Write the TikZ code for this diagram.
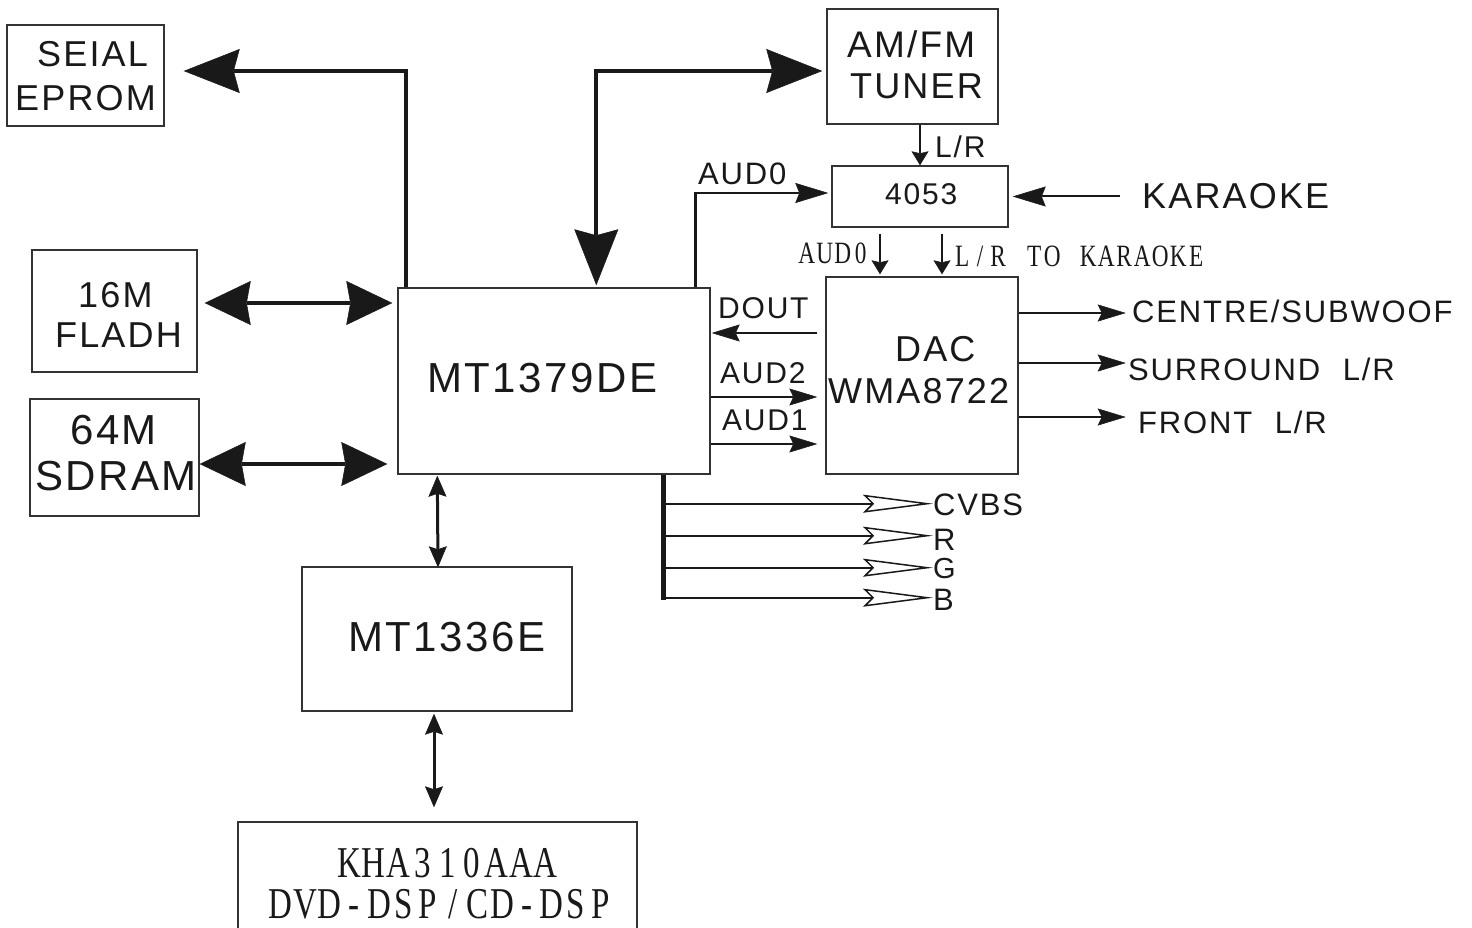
\documentclass[tikz,border=0pt]{standalone}
\usepackage{fontspec}
\setmainfont{Liberation Sans}[LetterSpace=6]
\newfontfamily\serifc{Liberation Serif}[FakeStretch=0.75]
\usetikzlibrary{arrows.meta,calc}
\newcommand\setfs[1]{\fontsize{#1}{#1}\selectfont}
\ExplSyntaxOn
\NewDocumentCommand \monostr { m m } { \tl_map_inline:nn {#2} { \makebox[#1][c]{##1} } }
\ExplSyntaxOff
\tikzset{
  box/.style={draw=black!80, line width=1.4pt, inner sep=0pt},
  txt/.style={inner sep=0pt, anchor=base west, text=black!90},
  txtc/.style={inner sep=0pt, anchor=base, text=black!90},
  txte/.style={inner sep=0pt, anchor=base east, text=black!90},
  thk/.style={line width=4pt, draw=black!90},
  med/.style={line width=2.5pt, draw=black!90},
  sml/.style={line width=2pt, draw=black!90},
  thinl/.style={line width=1.8pt, draw=black!90},
  lnk/.style={line width=3pt, draw=black!90},
  vl/.style={line width=2pt, draw=black!90},
  bar/.style={line width=5pt, draw=black!90},
  bigA/.tip={Stealth[length=56pt,width=44pt,inset=6pt,line width=0.5pt]},
  bigB/.tip={Stealth[length=46pt,width=44pt,inset=4pt,line width=0.5pt]},
  medA/.tip={Stealth[length=33pt,width=20pt,inset=4pt,line width=0.5pt]},
  medB/.tip={Stealth[length=28pt,width=17pt,inset=4pt,line width=0.5pt]},
  smallA/.tip={Stealth[length=14pt,width=17pt,inset=2pt,line width=0.5pt]},
  linkA/.tip={Stealth[length=21pt,width=18pt,inset=3pt,line width=0.5pt]},
  openA/.tip={Stealth[open,length=70pt,width=18pt,inset=9pt,line width=1.5pt]},
}
\begin{document}
\begin{tikzpicture}[x=1pt,y=-1pt]
\fill[white] (0,0) rectangle (1472,928);
\useasboundingbox (0,0) rectangle (1472,928);
\clip (0,0) rectangle (1472,928);

% boxes
\node[box,minimum width=157pt,minimum height=101pt] (seial) at (85.5,75.5) {};
\node[box,minimum width=165pt,minimum height=122pt] (flash) at (114.5,311) {};
\node[box,minimum width=169pt,minimum height=117pt] (sdram) at (114.5,457.5) {};
\node[box,minimum width=312pt,minimum height=186pt] (mt) at (554,381) {};
\node[box,minimum width=270pt,minimum height=144pt] (mts) at (437,639) {};
\node[box,minimum width=399pt,minimum height=130pt] (kha) at (437.5,887) {};
\node[box,minimum width=171pt,minimum height=115pt] (tuner) at (912.5,66.5) {};
\node[box,minimum width=176pt,minimum height=61pt] (sw) at (920,196.5) {};
\node[box,minimum width=192pt,minimum height=197pt] (dac) at (922,375.5) {};

% box texts
\node[txt] (t1) at (37,67) {\setfs{36}SEIAL};
\node[txt] (t2) at (15,111) {\setfs{36}EPROM};
\node[txt] (t3) at (78,307) {\setfs{36}16M};
\node[txt] (t4) at (55,347) {\setfs{36}FLADH};
\node[txt] (t5) at (70,444) {\setfs{42}64M};
\node[txt] (t6) at (35,490) {\setfs{42}SDRAM};
\node[txt] (t7) at (427,392) {\setfs{42}MT1379DE};
\node[txt] (t8) at (348,651) {\setfs{42}MT1336E};
\node[txtc] (t9) at (447.5,877) {\serifc\setfs{44}\monostr{24.6pt}{KHA310AAA}};
\node[txtc] (t10) at (440.5,918) {\serifc\setfs{44}\monostr{24.6pt}{DVD-DSP/CD-DSP}};
\node[txt] (t11) at (847,58) {\setfs{37}AM/FM};
\node[txt] (t12) at (850,99) {\setfs{36}TUNER};
\node[txt] (t13) at (885,205) {\setfs{30}4053};
\node[txt] (t14) at (895,361) {\setfs{36}DAC};
\node[txt] (t15) at (828,403) {\setfs{36}WMA8722};

% signal labels
\node[txt] (lr) at (935,158) {\setfs{30}L/R};
\node[txt] (aud0) at (698,185) {\setfs{31}AUD0};
\node[txt] (kara) at (1142,209) {\setfs{36}KARAOKE};
\node[txte] (aud0b) at (870,263) {\serifc\setfs{31}\monostr{18pt}{AUD0}};
\node[txt] (lrk) at (953,266) {\serifc\setfs{31}\monostr{18pt}{L/R~TO~KARAOKE}};
\node[txt] (dout) at (718,318) {\setfs{30}DOUT};
\node[txt] (aud2) at (720,383) {\setfs{30}AUD2};
\node[txt] (aud1) at (722,430) {\setfs{30}AUD1};
\node[txt] (cen) at (1132,322) {\setfs{31}CENTRE/SUBWOOF};
\node[txt] (sur) at (1128,380) {\setfs{31}SURROUND\hspace{12pt} L/R};
\node[txt] (fro) at (1138,433) {\setfs{31}FRONT\hspace{12pt} L/R};
\node[txt] (cvbs) at (933,515) {\setfs{31}CVBS};
\node[txt] (vr) at (933,550) {\setfs{31}R};
\node[txt] (vg) at (933,578) {\setfs{29}G};
\node[txt] (vb) at (933,610) {\setfs{31}B};

% big connectors
\draw[thk,-bigA] ($(mt.north west)+(9,0)$) |- ($(seial.east)+(19,-4.5)$);
\draw[thk,bigB-bigB] ($(flash.east)+(7,-8)$) -- ($(mt.west |- flash.east)+(-5,-8)$);
\draw[thk,bigB-bigB] ($(sdram.east)+(0,6.5)$) -- ($(mt.west |- sdram.east)+(-10,6.5)$);
\draw[thk,bigA-bigA] ($(tuner.west)+(-4,4.5)$) -| ($(mt.north west)+(199,-2)$);

% audio connectors
\draw[med,-medA] ($(mt.north east)+(-15,0)$) |- ($(sw.west)+(-3,-3.5)$);
\draw[sml,-smallA] ($(tuner.south)+(7.5,0)$) -- (sw.north);
\draw[sml,-medA] ($(sw.east)+(111,0)$) -- ($(sw.east)+(4,0)$);
\draw[sml,-smallA] ($(sw.south)+(-40,6)$) -- ($(dac.north)+(-42,-2)$);
\draw[sml,-smallA] ($(sw.south)+(22,6)$) -- ($(dac.north)+(20,-2)$);
\draw[sml,-medB] ($(dac.west)+(-8,-42.5)$) -- ($(mt.east |- dac.west)+(1,-42.5)$);
\draw[sml,-medB] ($(mt.east)+(0,16)$) -- ($(dac.west |- mt.east)+(-8,16)$);
\draw[sml,-medB] ($(mt.east)+(0,63)$) -- ($(dac.west |- mt.east)+(-8,63)$);
\draw[thinl,-medB] ($(dac.east)+(0,-62.5)$) -- ($(dac.east)+(107,-62.5)$);
\draw[thinl,-medB] ($(dac.east)+(0,-12.5)$) -- ($(dac.east)+(107,-12.5)$);
\draw[thinl,-medB] ($(dac.east)+(0,41.5)$) -- ($(dac.east)+(107,41.5)$);

% links
\draw[lnk,linkA-linkA] ($(mt.south west)+(40,1)$) -- ($(mts.north)+(1,1)$);
\draw[lnk,linkA-linkA] ($(mts.south)+(-3,2)$) -- ($(kha.north)+(-3.5,-14)$);

% video
\coordinate (bt) at ($(mt.south)+(109,0)$);
\draw[bar] (bt) -- ($(bt)+(0,125)$);
\coordinate (v1) at ($(bt)+(0,29)$);
\coordinate (v2) at ($(bt)+(0,61)$);
\coordinate (v3) at ($(bt)+(0,93)$);
\coordinate (v4) at ($(bt)+(0,123)$);
\draw[vl,-openA] (v1) -- (v1 -| cvbs.west);
\draw[vl,-openA] (v2) -- (v2 -| vr.west);
\draw[vl,-openA] (v3) -- (v3 -| vg.west);
\draw[vl,-openA] (v4) -- (v4 -| vb.west);
\end{tikzpicture}
\end{document}
